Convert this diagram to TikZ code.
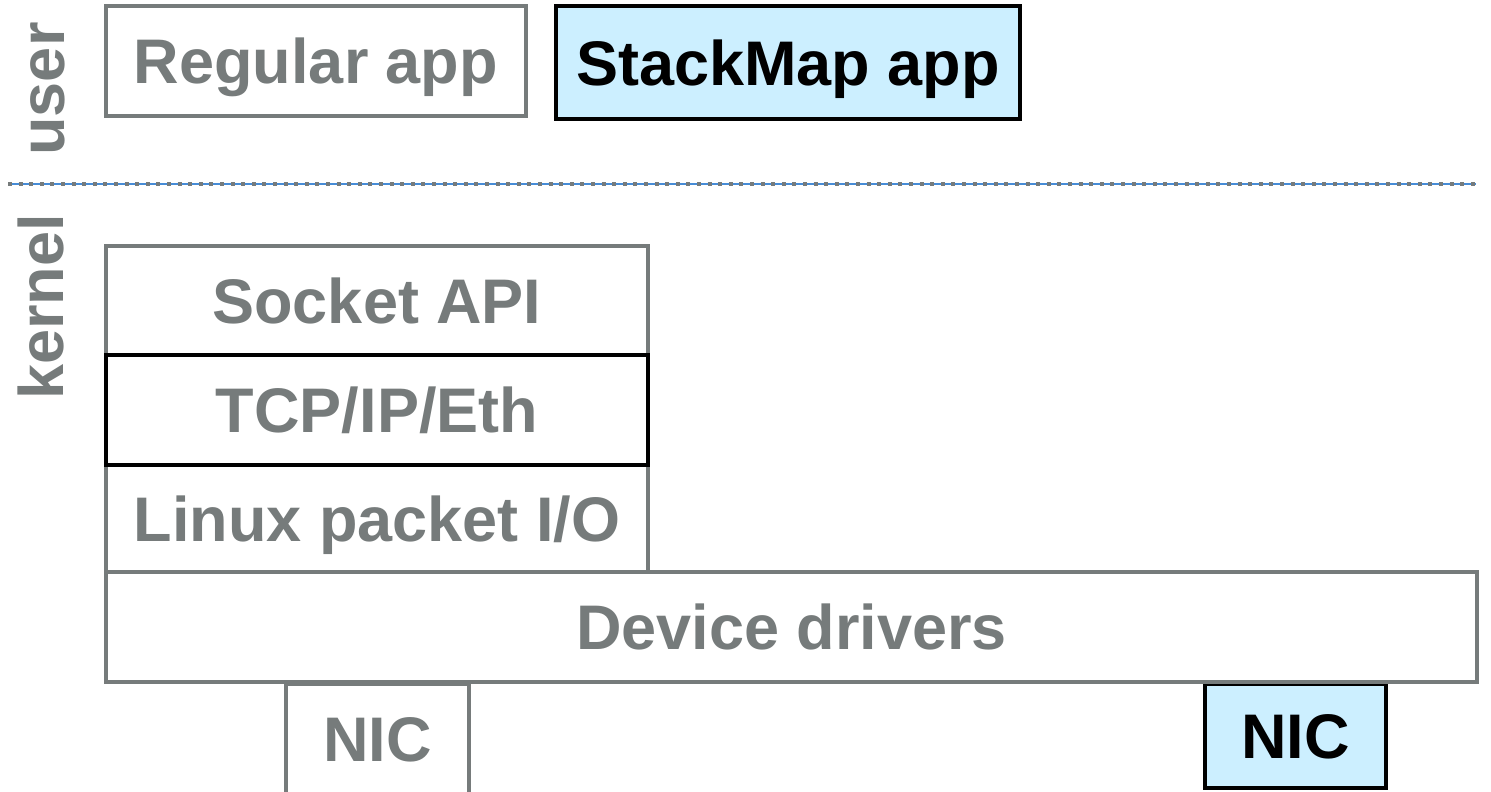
\documentclass[tikz,border=0pt]{standalone}
\usepackage{fontspec}
\setmainfont{Liberation Sans}
\usepackage{tikz}
\usetikzlibrary{positioning}

\definecolor{boxgray}{RGB}{118,123,123}
\definecolor{smblue}{RGB}{204,239,255}
\definecolor{sepblue}{RGB}{70,140,215}

\begin{document}
\begin{tikzpicture}[
        x=0.5pt, y=-0.5pt,
        every node/.style={rectangle, inner sep=0pt, outer sep=0pt, text depth=0pt,
            font=\fontsize{31.5}{36}\selectfont\bfseries},
        layer/.style={draw=boxgray, line width=2pt, text=boxgray, fill=white},
        ours/.style={draw=black, line width=2pt, text=black, fill=smblue}
        ]
        \tikzstyle{side} = [text=boxgray, rotate=90, anchor=base];
        \useasboundingbox (0,0) rectangle (1491,791);

        % user / kernel split
        \node[side] (user) at (64,89) {user};
        \node[side] (kern) at (63,307) {kernel};
        \coordinate (sepl) at (8,184);
        \coordinate (sepr) at (1476,184);
        \draw[sepblue, line width=0.6pt] (sepl) -- (sepr);
        \draw[boxgray, line width=2pt, dash pattern=on 2pt off 3.3pt] (sepl) -- (sepr);

        % applications
        \node[layer, minimum width=210pt, minimum height=55pt] (reg) at (316,61) {Regular app};
        \node[ours, minimum width=232pt, minimum height=56.5pt] (smapp) at (788,62.5) {StackMap app};

        % kernel stack
        \node[layer, minimum width=271pt, minimum height=54.5pt] (sock) at (377,300.5) {Socket API};
        \node[layer, minimum width=271pt, minimum height=53.5pt] (pktio) at (377,518.5) {Linux packet I/O};
        \node[layer, draw=black, minimum width=271pt, minimum height=55pt] (tcp) at (377,410) {TCP/IP/Eth};

        \node[layer, minimum width=91.5pt, minimum height=55.5pt] (nic1) at (377.5,739.5) {NIC};
        \node[ours, minimum width=90.5pt, minimum height=52pt] (nic2) at (1295.5,736) {NIC};
        \node[layer, minimum width=685.5pt, minimum height=55pt] (drv) at (791.5,627) {Device drivers};
\end{tikzpicture}
\end{document}
